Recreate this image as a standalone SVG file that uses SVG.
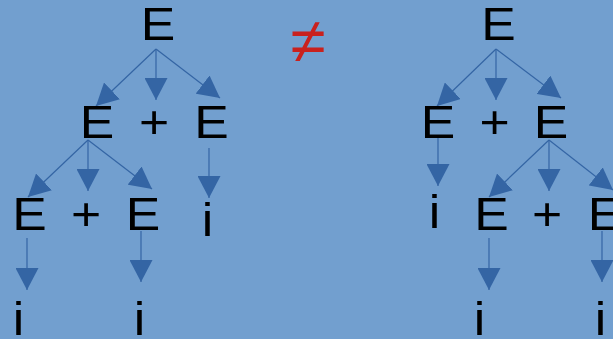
<svg xmlns="http://www.w3.org/2000/svg" width="613" height="339" viewBox="0 0 613 339">
<defs>
<marker id="ah" markerUnits="userSpaceOnUse" markerWidth="23" markerHeight="23" refX="22" refY="11.5" orient="auto" viewBox="0 0 23 23">
<path d="M0,0 L22,11.5 L0,23 Z" fill="#3465a4"/>
</marker>
<style>
.t{font-family:"Liberation Sans",Arial,sans-serif;font-size:47px;fill:#000;text-anchor:middle}
.c line{stroke:#3465a4;stroke-width:1.2;marker-end:url(#ah)}
.ne{font-family:"Liberation Sans",Arial,sans-serif;font-size:64px;fill:#c9211e;text-anchor:middle}
</style>
</defs>
<rect width="613" height="339" fill="#729fcf"/>
<g id="connectors" class="c">
<line x1="156" y1="49" x2="96" y2="106"/>
<line x1="156" y1="49" x2="156" y2="100"/>
<line x1="156" y1="49" x2="220" y2="98"/>
<line x1="209" y1="148" x2="209" y2="198"/>
<line x1="88" y1="140" x2="28" y2="197"/>
<line x1="88" y1="140" x2="88" y2="191"/>
<line x1="88" y1="140" x2="152" y2="189"/>
<line x1="27" y1="238" x2="27" y2="290"/>
<line x1="141" y1="231" x2="141" y2="282"/>
<line x1="496" y1="49" x2="437" y2="106"/>
<line x1="496" y1="49" x2="496" y2="100"/>
<line x1="496" y1="49" x2="561" y2="98"/>
<line x1="438" y1="135" x2="438" y2="186"/>
<line x1="549" y1="140" x2="489" y2="197"/>
<line x1="549" y1="140" x2="549" y2="191"/>
<line x1="549" y1="140" x2="613" y2="190"/>
<line x1="489" y1="238" x2="489" y2="290"/>
<line x1="602" y1="231" x2="602" y2="282"/>
</g>
<g id="L0"><text class="t" transform="translate(158,40) scale(1.1,1)">E</text></g>
<g id="L1a"><text class="t" transform="translate(97,138) scale(1.1,1)">E</text></g>
<g id="L1p"><text class="t" transform="translate(154,138) scale(1.1,1)">+</text></g>
<g id="L1b"><text class="t" transform="translate(211.5,138) scale(1.1,1)">E</text></g>
<g id="L2a"><text class="t" transform="translate(29.5,230) scale(1.1,1)">E</text></g>
<g id="L2p"><text class="t" transform="translate(86,230) scale(1.1,1)">+</text></g>
<g id="L2b"><text class="t" transform="translate(143,230) scale(1.1,1)">E</text></g>
<g id="L2i"><text class="t" transform="translate(207.5,236) scale(1.1,1)">i</text></g>
<g id="L3a"><text class="t" transform="translate(18.5,335) scale(1.1,1)">i</text></g>
<g id="L3b"><text class="t" transform="translate(139.5,335) scale(1.1,1)">i</text></g>
<g id="neq"><text class="ne" x="308" y="63">≠</text></g>
<g id="R0"><text class="t" transform="translate(498.5,40) scale(1.1,1)">E</text></g>
<g id="R1a"><text class="t" transform="translate(438,138) scale(1.1,1)">E</text></g>
<g id="R1p"><text class="t" transform="translate(494.5,138) scale(1.1,1)">+</text></g>
<g id="R1b"><text class="t" transform="translate(551,138) scale(1.1,1)">E</text></g>
<g id="R2i"><text class="t" transform="translate(434.5,228) scale(1.1,1)">i</text></g>
<g id="R2a"><text class="t" transform="translate(491.5,230) scale(1.1,1)">E</text></g>
<g id="R2p"><text class="t" transform="translate(547,230) scale(1.1,1)">+</text></g>
<g id="R2b"><text class="t" transform="translate(605,230) scale(1.1,1)">E</text></g>
<g id="R3a"><text class="t" transform="translate(479.5,335) scale(1.1,1)">i</text></g>
<g id="R3b"><text class="t" transform="translate(600.5,335) scale(1.1,1)">i</text></g>
</svg>
